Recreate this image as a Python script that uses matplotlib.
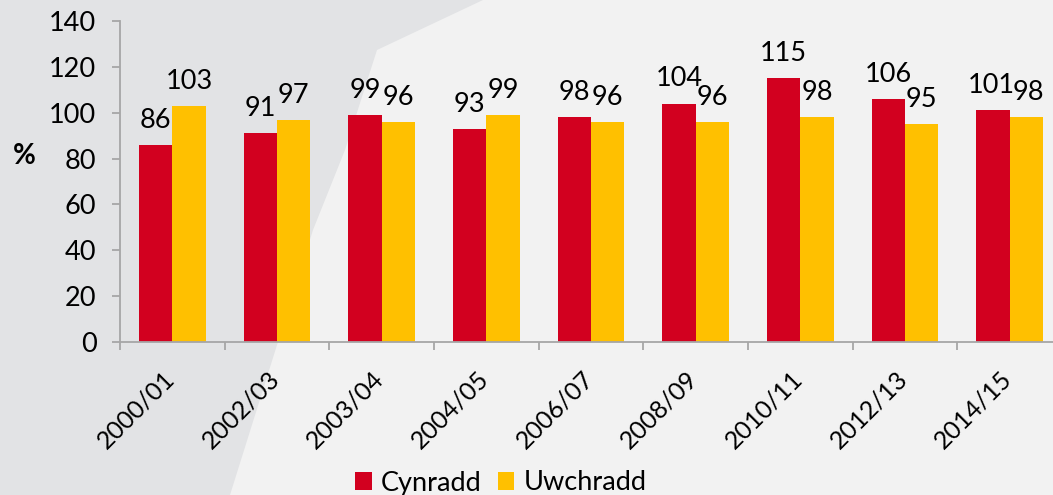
import matplotlib
matplotlib.use("Agg")
import matplotlib.pyplot as plt
from matplotlib.patches import Polygon
import matplotlib.transforms as mtransforms
import numpy as np

categories = ["2000/01", "2002/03", "2003/04", "2004/05", "2006/07",
              "2008/09", "2010/11", "2012/13", "2014/15"]
cynradd = [86, 91, 99, 93, 98, 104, 115, 106, 101]
uwchradd = [103, 97, 96, 99, 96, 96, 98, 95, 98]
series_names = ["Cynradd", "Uwchradd"]
yticks = [0, 20, 40, 60, 80, 100, 120, 140]

plt.rcParams['font.family'] = ['Lato', 'DejaVu Sans']
W, H = 1053, 495
fig = plt.figure(figsize=(W / 100, H / 100), dpi=100)
fig.patch.set_facecolor('#F2F2F2')

# background grey shape (upper-left)
pts = [(0, 0), (483, 0), (377, 50), (345, 150), (313, 230), (277, 345), (230, 495), (0, 495)]
poly = Polygon([(x / W, 1 - y / H) for x, y in pts], closed=True,
               transform=fig.transFigure, facecolor='#E2E3E5', edgecolor='none', zorder=-5)
fig.patches.append(poly)

ax = fig.add_axes([120 / W, (H - 342) / H, 942 / W, 321 / H])
ax.set_facecolor('none')
ax.set_zorder(2)

x = np.arange(len(categories))
bw = 0.32
red, yellow = '#D2001F', '#FFC000'
b1 = ax.bar(x - bw / 2, cynradd, bw, color=red, label=series_names[0], zorder=2)
b2 = ax.bar(x + bw / 2, uwchradd, bw, color=yellow, label=series_names[1], zorder=2)

FS = 19.5
n = len(categories)
for k, (bars, vals) in enumerate(((b1, cynradd), (b2, uwchradd))):
    for i, (r, v) in enumerate(zip(bars, vals)):
        dx = 0
        if i == n - 1:
            dx = -1.5 if k == 0 else 1.5
        ax.annotate(str(v), (r.get_x() + r.get_width() / 2, r.get_height()),
                    xytext=(dx, 12.3), textcoords='offset points',
                    ha='center', va='baseline', fontsize=FS, color='#000000')

ax.set_xlim(-0.5, n - 0.5)
ax.set_ylim(0, 140)
ax.set_yticks(yticks)
ax.set_yticklabels([str(t) for t in yticks], fontsize=FS)

ax.set_xticks(x)
ax.set_xticklabels(categories, fontsize=18, rotation=45, ha='right', va='top',
                   rotation_mode='anchor')
ax.set_xticks(np.arange(-0.5, n + 0.5, 1), minor=True)
ax.tick_params(axis='x', which='major', length=0, pad=18)
ax.tick_params(axis='x', which='minor', length=6, width=1.3, color='#A6A6A6', direction='out')
ax.tick_params(axis='y', length=6, width=1.3, color='#A6A6A6', direction='out', pad=11)

off = mtransforms.ScaledTranslation(-7 / 72, 0, fig.dpi_scale_trans)
for lab in ax.get_xticklabels():
    lab.set_transform(lab.get_transform() + off)

for s in ('top', 'right'):
    ax.spines[s].set_visible(False)
for s in ('left', 'bottom'):
    ax.spines[s].set_color('#A6A6A6')
    ax.spines[s].set_linewidth(1.3)

fig.text(24 / W, 1 - 156 / H, '%', ha='center', va='center', fontsize=20, fontweight='bold')

leg = fig.legend(handles=[b1, b2], labels=series_names, loc='center',
                 bbox_to_anchor=(501 / W, 12 / H), ncol=2, frameon=False,
                 fontsize=FS, handlelength=0.6, handleheight=0.65,
                 handletextpad=0.35, columnspacing=0.6, borderpad=0)

fig.savefig('out.png', dpi=100, facecolor=fig.get_facecolor())
